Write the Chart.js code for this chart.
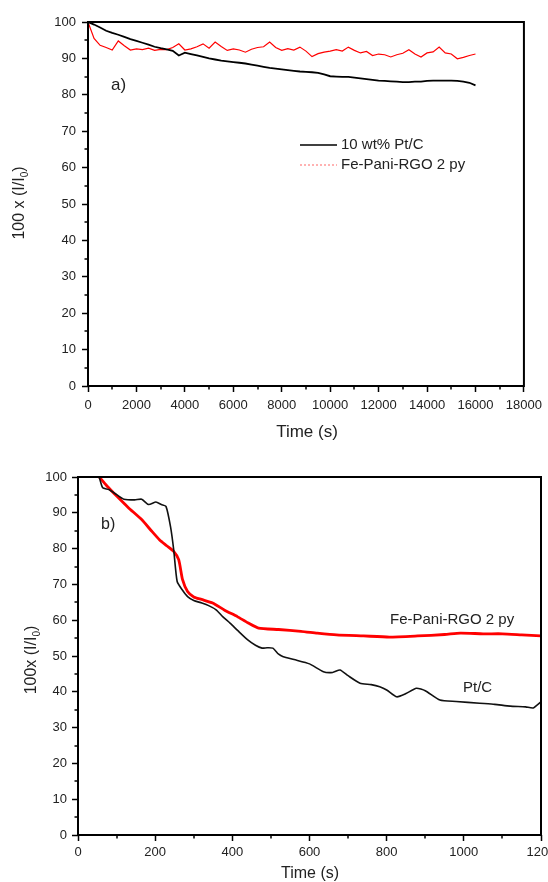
<!DOCTYPE html>
<html>
<head>
<meta charset="utf-8">
<script src="https://cdn.jsdelivr.net/npm/chart.js@4.4.0/dist/chart.umd.min.js"></script>
<style>
html, body { margin: 0; padding: 0; background: #fff; overflow: hidden; }
#wrapA { position: absolute; left: 0; top: 0; }
#wrapB { position: absolute; left: 0; top: 445px; }
</style>
</head>
<body>
<div id="wrapA"><canvas id="chartA" width="548" height="445"></canvas></div>
<div id="wrapB"><canvas id="chartB" width="570" height="437"></canvas></div>
<script>
// ---- panel a) data: long run, time in s ----
var timeA = [0, 250, 500, 750, 1000, 1250, 1500, 1750,
  2000, 2250, 2500, 2750, 3000, 3250, 3500, 3750,
  4000, 4250, 4500, 4750, 5000, 5250, 5500, 5750,
  6000, 6250, 6500, 6750, 7000, 7250, 7500, 7750,
  8000, 8250, 8500, 8750, 9000, 9250, 9500, 9750,
  10000, 10250, 10500, 10750, 11000, 11250, 11500, 11750,
  12000, 12250, 12500, 12750, 13000, 13250, 13500, 13750,
  14000, 14250, 14500, 14750, 15000, 15250, 15500, 15750,
  16000];
var ptcA = [100, 99.3, 98.5, 97.6, 97, 96.5, 95.9, 95.3,
  94.8, 94.3, 93.8, 93.2, 92.8, 92.5, 92.1, 90.8,
  91.6, 91.2, 90.8, 90.4, 90, 89.7, 89.4, 89.2,
  89, 88.8, 88.6, 88.3, 88, 87.7, 87.4, 87.2,
  87, 86.8, 86.6, 86.4, 86.3, 86.2, 86, 85.6,
  85.1, 85, 84.9, 84.9, 84.7, 84.5, 84.3, 84.1,
  83.9, 83.8, 83.7, 83.6, 83.5, 83.5, 83.6, 83.6,
  83.8, 83.9, 83.9, 83.9, 83.9, 83.8, 83.6, 83.3,
  82.6];
var fepaniA = [100, 95.5, 93.6, 93, 92.3, 94.8, 93.5, 92.3,
  92.6, 92.4, 92.8, 92.2, 92.5, 92.4, 93, 94,
  92.3, 92.6, 93.2, 94, 92.8, 94.5, 93.3, 92.2,
  92.6, 92.3, 91.7, 92.5, 93, 93.2, 94.5, 93,
  92.2, 92.7, 92.3, 93.1, 92, 90.5, 91.3, 91.7,
  92, 92.4, 92, 93.1, 92.2, 91.5, 91.9, 90.8,
  91.2, 91, 90.4, 91, 91.4, 92.4, 91.2, 90.4,
  91.5, 91.8, 93.1, 91.5, 91.2, 89.9, 90.3, 90.8,
  91.2];
var xTicksA = [0, 2000, 4000, 6000, 8000, 10000, 12000, 14000, 16000, 18000];

// ---- panel b) data: short run ----
var timePtcB = [55, 64, 80, 101, 119, 147, 165, 183, 202, 216, 228, 240, 248, 257, 270, 284,
  300, 321, 340, 358, 375, 394, 415, 440, 460, 477, 490, 505, 520, 532, 560, 600,
  636, 660, 679, 700, 731, 760, 782, 800, 826, 850, 877, 900, 938, 980, 1041, 1080,
  1120, 1160, 1180, 1200];
var ptcB = [100, 97, 96.5, 95, 93.8, 93.6, 93.8, 92.3, 93, 92.3, 91.8, 86, 79.7, 70.8, 68.5, 66.6,
  65.5, 64.8, 64, 62.9, 61, 59.2, 57, 54.5, 53, 52.2, 52.3, 52.2, 50.5, 49.8, 49, 47.8,
  45.6, 45.4, 46.1, 44.5, 42.4, 42, 41.4, 40.5, 38.6, 39.5, 41, 40.3, 37.7, 37.3, 36.8, 36.5,
  36, 35.8, 35.5, 37.2];
var timeFeB = [55, 75, 101, 130, 165, 190, 211, 230, 248, 261, 271, 284, 300, 320, 349, 380,
  413, 440, 468, 520, 578, 620, 670, 740, 807, 880, 950, 991, 1050, 1100, 1150, 1200];
var fepaniB = [100, 97.5, 94.6, 91.5, 88.1, 85, 82.5, 80.8, 79.2, 76.9, 71.3, 68, 66.5, 65.8, 64.8, 62.8,
  61, 59.3, 57.8, 57.4, 56.9, 56.4, 55.9, 55.6, 55.3, 55.6, 56, 56.4, 56.2, 56.2, 55.9, 55.6];
var xTicksB = [0, 200, 400, 600, 800, 1000, 1200];

var yTicks = [0, 10, 20, 30, 40, 50, 60, 70, 80, 90, 100];

var FONT = "'Liberation Sans', Arial, sans-serif";

function pts(xs, ys) {
  return xs.map(function (t, i) { return { x: t, y: ys[i] }; });
}

// box around the plot, minor ticks, and the free text of each panel
var framePlugin = {
  id: 'frame',
  afterDraw: function (chart, args, opts) {
    var ctx = chart.ctx, a = chart.chartArea;
    var x = chart.scales.x, y = chart.scales.y;
    ctx.save();
    ctx.strokeStyle = '#000';
    ctx.lineWidth = 2;
    ctx.strokeRect(a.left, a.top, a.right - a.left, a.bottom - a.top);

    // minor ticks half way between majors
    ctx.lineWidth = 1.5;
    ctx.beginPath();
    for (var i = 1; i < x.ticks.length; i++) {
      var px = Math.round(x.getPixelForValue((x.ticks[i - 1].value + x.ticks[i].value) / 2));
      ctx.moveTo(px, a.bottom);
      ctx.lineTo(px, a.bottom + 3.5);
    }
    for (var j = 1; j < y.ticks.length; j++) {
      var py = Math.round(y.getPixelForValue((y.ticks[j - 1].value + y.ticks[j].value) / 2));
      ctx.moveTo(a.left, py);
      ctx.lineTo(a.left - 3.5, py);
    }
    ctx.stroke();

    ctx.fillStyle = '#222';
    ctx.textBaseline = 'middle';

    // plain labels
    (opts.labels || []).forEach(function (l) {
      ctx.font = l.size + 'px ' + FONT;
      ctx.textAlign = l.align || 'left';
      ctx.fillText(l.text, l.x, l.y);
    });

    // legend rows
    (opts.legend || []).forEach(function (r) {
      ctx.save();
      ctx.strokeStyle = r.color;
      ctx.lineWidth = r.width;
      ctx.setLineDash(r.dash || []);
      ctx.beginPath();
      ctx.moveTo(r.x0, r.y);
      ctx.lineTo(r.x1, r.y);
      ctx.stroke();
      ctx.restore();
      ctx.font = r.size + 'px ' + FONT;
      ctx.textAlign = 'left';
      ctx.fillText(r.text, r.x1 + 4, r.y);
    });

    // rotated y title with subscript 0
    var yt = opts.yTitle;
    if (yt) {
      ctx.save();
      ctx.translate(yt.x, yt.y);
      ctx.rotate(-Math.PI / 2);
      ctx.font = yt.size + 'px ' + FONT;
      var small = Math.round(yt.size * 0.65) + 'px ' + FONT;
      var w1 = ctx.measureText(yt.main).width;
      var w3 = ctx.measureText(')').width;
      ctx.font = small;
      var w2 = ctx.measureText('0').width;
      var x0 = -(w1 + w2 + w3) / 2;
      ctx.textAlign = 'left';
      ctx.font = yt.size + 'px ' + FONT;
      ctx.fillText(yt.main, x0, 0);
      ctx.font = small;
      ctx.fillText('0', x0 + w1, yt.size * 0.3);
      ctx.font = yt.size + 'px ' + FONT;
      ctx.fillText(')', x0 + w1 + w2, 0);
      ctx.restore();
    }
    ctx.restore();
  }
};

function axis(ticksArr, tickLen, pad, fit) {
  return {
    type: 'linear',
    min: ticksArr[0],
    max: ticksArr[ticksArr.length - 1],
    afterBuildTicks: function (s) { s.ticks = ticksArr.map(function (v) { return { value: v }; }); },
    afterFit: fit,
    grid: { display: true, drawOnChartArea: false, drawTicks: true, tickLength: tickLen, tickWidth: 1.5, tickColor: '#000' },
    border: { display: false },
    ticks: {
      color: '#222', font: { family: FONT, size: 13 }, padding: pad, maxRotation: 0, autoSkip: false,
      callback: function (v) { return String(v); }
    }
  };
}

// ---- chart a ----
new Chart(document.getElementById('chartA').getContext('2d'), {
  type: 'line',
  data: {
    datasets: [
      { label: '10 wt% Pt/C', data: pts(timeA, ptcA), borderColor: '#000', borderWidth: 1.8, pointRadius: 0, tension: 0 },
      { label: 'Fe-Pani-RGO 2 py', data: pts(timeA, fepaniA), borderColor: '#ff0000', borderWidth: 1.2, pointRadius: 0, tension: 0 }
    ]
  },
  options: {
    responsive: false,
    animation: false,
    layout: { padding: { left: 0, top: 22, right: 22, bottom: 0 } },
    plugins: {
      legend: { display: false },
      tooltip: { enabled: false },
      frame: {
        labels: [
          { text: 'a)', x: 111, y: 85, size: 17 },
          { text: 'Time (s)', x: 307, y: 432, size: 17, align: 'center' }
        ],
        legend: [
          { text: '10 wt% Pt/C', x0: 300, x1: 337, y: 145, color: '#000', width: 1.5, size: 15 },
          { text: 'Fe-Pani-RGO 2 py', x0: 300, x1: 337, y: 165, color: 'rgba(255,0,0,0.6)', width: 1, dash: [2, 2], size: 15 }
        ],
        yTitle: { main: '100 x (I/I', x: 20, y: 203, size: 16 }
      }
    },
    scales: {
      x: axis(xTicksA, 6, 6, function (s) { s.height = 445 - 386; }),
      y: axis(yTicks, 6, 6, function (s) { s.width = 88; })
    }
  },
  plugins: [framePlugin]
});

// ---- chart b ----
new Chart(document.getElementById('chartB').getContext('2d'), {
  type: 'line',
  data: {
    datasets: [
      { label: 'Pt/C', data: pts(timePtcB, ptcB), borderColor: '#111', borderWidth: 1.6, pointRadius: 0, tension: 0.2 },
      { label: 'Fe-Pani-RGO 2 py', data: pts(timeFeB, fepaniB), borderColor: '#ff0000', borderWidth: 2.8, pointRadius: 0, tension: 0.2 }
    ]
  },
  options: {
    responsive: false,
    animation: false,
    layout: { padding: { left: 0, top: 32, right: 29, bottom: 0 } },
    plugins: {
      legend: { display: false },
      tooltip: { enabled: false },
      frame: {
        labels: [
          { text: 'b)', x: 101, y: 80, size: 16 },
          { text: 'Fe-Pani-RGO 2 py', x: 390, y: 175, size: 15 },
          { text: 'Pt/C', x: 463, y: 243, size: 15 },
          { text: 'Time (s)', x: 310, y: 429, size: 16, align: 'center' }
        ],
        yTitle: { main: '100x (I/I', x: 32, y: 215, size: 16 }
      }
    },
    scales: {
      x: axis(xTicksB, 6, 4, function (s) { s.height = 437 - 390; }),
      y: axis(yTicks, 6, 5, function (s) { s.width = 78; })
    }
  },
  plugins: [framePlugin]
});
</script>
</body>
</html>
